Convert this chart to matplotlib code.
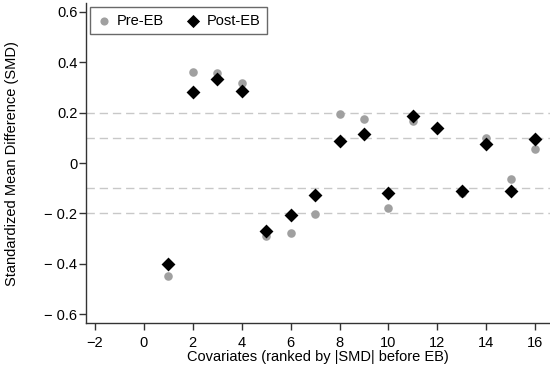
import matplotlib.pyplot as plt
from matplotlib.ticker import FixedLocator, FuncFormatter

plt.rcParams['font.family'] = ['Liberation Sans', 'DejaVu Sans']

# Covariates ranked by |SMD| before entropy balancing
covariate_rank = [1, 2, 3, 4, 5, 6, 7, 8, 9, 10, 11, 12, 13, 14, 15, 16]
smd_pre = [-0.449, 0.363, 0.357, 0.319, -0.289, -0.277, -0.204, 0.195,
           0.175, -0.178, 0.168, 0.140, -0.120, 0.099, -0.064, 0.056]
smd_post = [-0.402, 0.281, 0.335, 0.286, -0.270, -0.207, -0.128, 0.086,
            0.115, -0.118, 0.188, 0.138, -0.111, 0.076, -0.113, 0.094]
ref_lines = [0.2, 0.1, -0.1, -0.2]
y_ticks = [0.6, 0.4, 0.2, 0, -0.2, -0.4, -0.6]
x_ticks = [-2, 0, 2, 4, 6, 8, 10, 12, 14, 16]

fig = plt.figure(figsize=(5.5, 3.67), dpi=100)
ax = fig.add_axes([0.156, 0.119, 0.844, 0.873])

for y in ref_lines:
    ax.axhline(y, color='#c8c8c8', linestyle=(0, (6, 3.5)), linewidth=1.0, zorder=1)

ax.scatter(covariate_rank, smd_pre, s=38, marker='o', color='#a0a0a0',
           linewidths=0, label='Pre-EB', zorder=2)
ax.scatter(covariate_rank, smd_post, s=50, marker='D', color='black',
           linewidths=0, label='Post-EB', zorder=3)

ax.set_xlim(-2.37, 16.6)
ax.set_ylim(-0.637, 0.636)
ax.xaxis.set_major_locator(FixedLocator(x_ticks))
ax.yaxis.set_major_locator(FixedLocator(y_ticks))


def fmt_y(v, pos):
    if abs(v) < 1e-9:
        return '0'
    if v < 0:
        return '\u2212 %.1f' % abs(v)
    return '%.1f' % v


def fmt_x(v, pos):
    return ('\u2212%d' % abs(v)) if v < 0 else '%d' % v


ax.yaxis.set_major_formatter(FuncFormatter(fmt_y))
ax.xaxis.set_major_formatter(FuncFormatter(fmt_x))

for side in ['top', 'right']:
    ax.spines[side].set_visible(False)
for side in ['left', 'bottom']:
    ax.spines[side].set_color('#333333')
    ax.spines[side].set_linewidth(1.0)

ax.tick_params(direction='out', length=5, width=1, color='#333333', labelsize=10.5)
ax.tick_params(axis='x', pad=4)
ax.tick_params(axis='y', pad=1)

ax.set_xlabel('Covariates (ranked by |SMD| before EB)', fontsize=10.5, labelpad=0)
ax.set_ylabel('Standardized Mean Difference (SMD)', fontsize=10.5, labelpad=18)

leg = ax.legend(loc='upper left', ncol=2, fontsize=10.5, frameon=True, fancybox=False,
                edgecolor='#444444', borderpad=0.45, handletextpad=0.4,
                columnspacing=1.5, borderaxespad=0.3, handlelength=1.0,
                markerscale=0.95)
leg.get_frame().set_linewidth(1.0)

fig.savefig('out.png', dpi=100)
